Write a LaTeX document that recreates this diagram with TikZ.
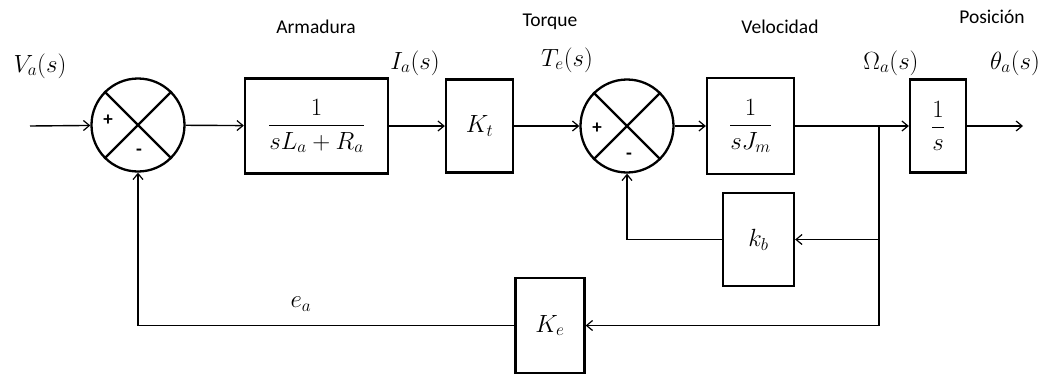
\documentclass[tikz,border=0pt]{standalone}
\usepackage{amsmath}
\usepackage{fontspec}
\setmainfont{Carlito}
\usetikzlibrary{arrows.meta}
\newcommand\mymathsize{\fontsize{27}{31}\selectfont}
\newcommand\mytextsize{\fontsize{19.5}{22}\selectfont}
\begin{document}
\begin{tikzpicture}[x=1pt,y=-1pt,
  blk/.style={draw,line width=2.3pt,inner sep=0pt,font=\mymathsize},
  sumc/.style={draw,circle,line width=2.3pt,minimum size=93pt,inner sep=0pt},
  conn/.style={line width=1.4pt,-{Straight Barb[length=6pt,width=10pt,line width=1.2pt]}},
  plain/.style={line width=1.4pt},
  lbl/.style={font=\mymathsize,inner sep=0pt},
  txt/.style={font=\mytextsize,inner sep=0pt},
  sgn/.style={font=\fontsize{19}{19}\selectfont\bfseries,inner sep=0pt}]
\useasboundingbox (0,0) rectangle (1053,373);
% summing junctions
\node[sumc] (s1) at (138,125) {};
\node[sumc] (s2) at (627,126) {};
\draw[line width=2.3pt] (s1.45) -- (s1.225) (s1.135) -- (s1.315);
\draw[line width=2.3pt] (s2.45) -- (s2.225) (s2.135) -- (s2.315);
\node[sgn] (p1) at (108,120) {+};
\node[sgn] (m1) at (139,152) {-};
\node[sgn] (p2) at (597,128) {+};
\node[sgn] (m2) at (629,156) {-};
% blocks
\node[blk,minimum width=143pt,minimum height=95pt] (b1) at (316.5,126) {$\dfrac{1}{sL_a+R_a}$};
\node[blk,minimum width=67pt,minimum height=93pt] (kt) at (479.5,126) {$K_t$};
\node[blk,minimum width=87pt,minimum height=96pt] (bj) at (750.5,126) {$\dfrac{1}{sJ_m}$};
\node[blk,minimum width=56pt,minimum height=93pt] (bs) at (938,126) {$\dfrac{1}{s}$};
\node[blk,minimum width=71pt,minimum height=93pt] (kb) at (758.5,239.5) {$k_b$};
\node[blk,minimum width=69pt,minimum height=95pt] (ke) at (550,325.5) {$K_e$};
% coordinates
\coordinate (in) at (30,126);
\coordinate (out) at (1023,126);
\coordinate (br) at (879,126);
% connectors
\draw[conn] (in) -- (s1);
\draw[conn] (s1) -- (b1);
\draw[conn] (b1) -- (kt);
\draw[conn] (kt) -- (s2);
\draw[conn] (s2) -- (bj);
\draw[plain] (bj) -- (br);
\draw[conn] (br) -- (bs);
\draw[conn] (bs) -- (out);
\draw[conn] (br) |- (kb);
\draw[conn] (br) |- (ke);
\draw[conn] (kb) -| (s2);
\draw[conn] (ke) -| (s1);
% labels
\node[lbl] (lva) at (40,66) {$V_a(s)$};
\node[lbl] (lia) at (415,63) {$I_a(s)$};
\node[lbl] (lte) at (567,60) {$T_e(s)$};
\node[lbl] (lom) at (891,63) {$\Omega_a(s)$};
\node[lbl] (lth) at (1015,63) {$\theta_a(s)$};
\node[lbl] (lea) at (301,304) {$e_a$};
\node[txt] (tarm) at (316,27) {Armadura};
\node[txt] (ttor) at (550,22) {Torque};
\node[txt] (tvel) at (780,27) {Velocidad};
\node[txt] (tpos) at (992,17) {Posición};
\end{tikzpicture}
\end{document}
